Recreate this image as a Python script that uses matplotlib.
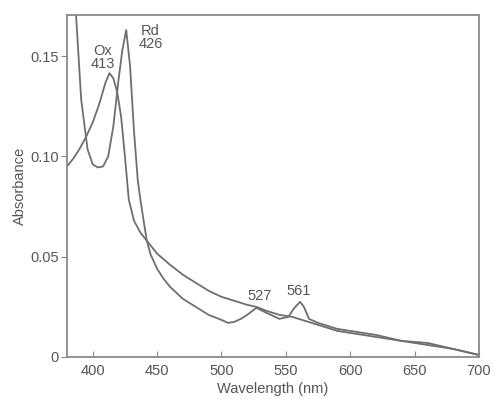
import matplotlib
matplotlib.use("Agg")
import matplotlib.pyplot as plt

plt.rcParams['font.family'] = ['Liberation Sans', 'DejaVu Sans']

# oxidized spectrum
ox_nm = [380, 385, 390, 395, 400, 405, 410, 413, 416, 419, 422, 425, 428, 432, 437,
         442, 450, 460, 470, 480, 490, 500, 510, 520, 527, 535, 545, 555, 565, 575,
         590, 600, 620, 640, 660, 680, 700]
ox_abs = [0.095, 0.099, 0.104, 0.110, 0.117, 0.126, 0.137, 0.1415, 0.139, 0.132, 0.120,
          0.100, 0.0785, 0.068, 0.062, 0.058, 0.0515, 0.046, 0.041, 0.037, 0.033, 0.030,
          0.028, 0.026, 0.025, 0.023, 0.021, 0.020, 0.018, 0.016, 0.013, 0.012, 0.010,
          0.008, 0.006, 0.004, 0.001]

# reduced spectrum
rd_nm = [385, 387, 391, 396, 400, 404, 408, 412, 416, 420, 423, 426, 429, 432, 435, 437,
         440, 442, 445, 450, 455, 460, 470, 480, 490, 500, 505, 510, 515, 520, 527,
         535, 545, 552, 556, 561, 564, 568, 575, 590, 600, 620, 640, 660, 680, 700]
rd_abs = [0.185, 0.171, 0.1285, 0.1035, 0.096, 0.0945, 0.095, 0.100, 0.115, 0.138, 0.153, 0.163,
          0.145, 0.113, 0.088, 0.0785, 0.066, 0.058, 0.051, 0.044, 0.039, 0.035, 0.029,
          0.025, 0.021, 0.0185, 0.017, 0.0175, 0.019, 0.021, 0.0245, 0.022, 0.019,
          0.020, 0.024, 0.0275, 0.025, 0.019, 0.017, 0.014, 0.013, 0.011, 0.008, 0.007,
          0.004, 0.001]

peak_labels = [("Ox\n413", 408, 0.1425), ("Rd\n426", 445, 0.1525), ("527", 530, 0.027), ("561", 560, 0.0295)]

line_col = "#6e6e6e"
txt_col = "#555555"

fig = plt.figure(figsize=(4.94, 3.99), dpi=100)
ax = fig.add_axes([0.1356, 0.1053, 0.834, 0.8571])
ax.plot(ox_nm, ox_abs, color=line_col, lw=1.3)
ax.plot(rd_nm, rd_abs, color=line_col, lw=1.3)

for txt, x, y in peak_labels:
    ax.text(x, y, txt, ha="center", va="bottom", fontsize=10.5, color=txt_col, linespacing=0.95)

ax.set_xlim(380, 700)
ax.set_ylim(0, 0.1705)
ax.set_xticks([400, 450, 500, 550, 600, 650, 700])
ax.set_yticks([0, 0.05, 0.10, 0.15])
ax.set_yticklabels(["0", "0.05", "0.10", "0.15"])
ax.tick_params(axis="x", direction="in", length=4, colors="#888888", labelcolor=txt_col, labelsize=10.5, pad=5)
ax.tick_params(axis="y", direction="out", length=4, colors="#888888", labelcolor=txt_col, labelsize=10.5, pad=2)
for s in ax.spines.values():
    s.set_color("#8a8a8a")
    s.set_linewidth(1.3)

ax.set_xlabel("Wavelength (nm)", fontsize=10.5, color=txt_col, labelpad=3)
ax.set_ylabel("Absorbance", fontsize=10.5, color=txt_col, labelpad=2)

fig.savefig("out.png", dpi=100)
